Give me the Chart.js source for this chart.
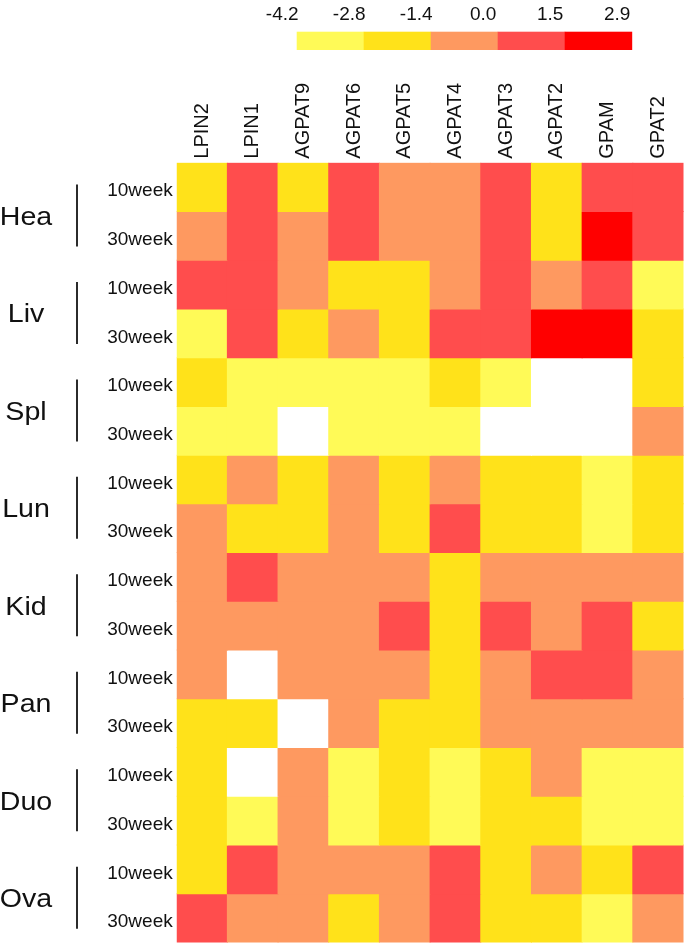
<!DOCTYPE html>
<html>
<head>
<meta charset="utf-8">
<script src="https://cdn.jsdelivr.net/npm/chart.js@4.4.1/dist/chart.umd.min.js"></script>
<style>
  html, body { margin: 0; padding: 0; background: #ffffff; }
  canvas { display: block; }
</style>
</head>
<body>
<canvas id="c" width="685" height="944"></canvas>
<script>
// ---------------- data ----------------
const genes = ['LPIN2', 'LPIN1', 'AGPAT9', 'AGPAT6', 'AGPAT5', 'AGPAT4', 'AGPAT3', 'AGPAT2', 'GPAM', 'GPAT2'];
const tissues = ['Hea', 'Liv', 'Spl', 'Lun', 'Kid', 'Pan', 'Duo', 'Ova'];
const weeks = ['10week', '30week'];

// legend breaks and bin colours
const legendBreaks = [-4.2, -2.8, -1.4, 0.0, 1.5, 2.9];
const legendLabels = ['-4.2', '-2.8', '-1.4', '0.0', '1.5', '2.9'];
const binColors = ['#FFFA57', '#FFE21A', '#FE9960', '#FF4D4D', '#FF0000'];
const naColor = '#FFFFFF';

// values per tissue/week row, in gene order (null = no value, drawn white)
const hea10 = [-2.1,  0.7, -2.1,  0.7, -0.7, -0.7,  0.7, -2.1,  0.7,  0.7];
const hea30 = [-0.7,  0.7, -0.7,  0.7, -0.7, -0.7,  0.7, -2.1,  2.2,  0.7];
const liv10 = [ 0.7,  0.7, -0.7, -2.1, -2.1, -0.7,  0.7, -0.7,  0.7, -3.5];
const liv30 = [-3.5,  0.7, -2.1, -0.7, -2.1,  0.7,  0.7,  2.2,  2.2, -2.1];
const spl10 = [-2.1, -3.5, -3.5, -3.5, -3.5, -2.1, -3.5, null, null, -2.1];
const spl30 = [-3.5, -3.5, null, -3.5, -3.5, -3.5, null, null, null, -0.7];
const lun10 = [-2.1, -0.7, -2.1, -0.7, -2.1, -0.7, -2.1, -2.1, -3.5, -2.1];
const lun30 = [-0.7, -2.1, -2.1, -0.7, -2.1,  0.7, -2.1, -2.1, -3.5, -2.1];
const kid10 = [-0.7,  0.7, -0.7, -0.7, -0.7, -2.1, -0.7, -0.7, -0.7, -0.7];
const kid30 = [-0.7, -0.7, -0.7, -0.7,  0.7, -2.1,  0.7, -0.7,  0.7, -2.1];
const pan10 = [-0.7, null, -0.7, -0.7, -0.7, -2.1, -0.7,  0.7,  0.7, -0.7];
const pan30 = [-2.1, -2.1, null, -0.7, -2.1, -2.1, -0.7, -0.7, -0.7, -0.7];
const duo10 = [-2.1, null, -0.7, -3.5, -2.1, -3.5, -2.1, -0.7, -3.5, -3.5];
const duo30 = [-2.1, -3.5, -0.7, -3.5, -2.1, -3.5, -2.1, -2.1, -3.5, -3.5];
const ova10 = [-2.1,  0.7, -0.7, -0.7, -0.7,  0.7, -2.1, -0.7, -2.1,  0.7];
const ova30 = [ 0.7, -0.7, -0.7, -2.1, -0.7,  0.7, -2.1, -2.1, -3.5, -0.7];

const rowValues = [hea10, hea30, liv10, liv30, spl10, spl30, lun10, lun30,
                   kid10, kid30, pan10, pan30, duo10, duo30, ova10, ova30];

// ---------------- helpers ----------------
const rowLabels = [];
tissues.forEach(t => weeks.forEach(w => rowLabels.push(w)));

function colorFor(v) {
  if (v === null || v === undefined) return naColor;
  for (let i = 0; i < binColors.length; i++) {
    if (v <= legendBreaks[i + 1]) return binColors[i];
  }
  return binColors[binColors.length - 1];
}

const FONT = "'Liberation Sans', Arial, Helvetica, sans-serif";

const datasets = rowValues.map((vals, r) => ({
  label: tissues[Math.floor(r / 2)] + ' ' + rowLabels[r],
  data: genes.map(() => [r, r + 1]),
  backgroundColor: vals.map(colorFor),
  borderWidth: 0,
  barPercentage: 1,
  categoryPercentage: 1,
  grouped: false,
  inflateAmount: 0.5
}));

// ---------------- plugins ----------------
const whiteBg = {
  id: 'whiteBg',
  beforeDraw(chart) {
    const ctx = chart.ctx;
    ctx.save();
    ctx.fillStyle = '#ffffff';
    ctx.fillRect(0, 0, chart.width, chart.height);
    ctx.restore();
  }
};

const tissueLabels = {
  id: 'tissueLabels',
  afterDraw(chart) {
    const ctx = chart.ctx;
    const y = chart.scales.y;
    ctx.save();
    tissues.forEach((t, i) => {
      const top = y.getPixelForValue(2 * i);
      const bot = y.getPixelForValue(2 * i + 2);
      const cy = (top + bot) / 2 + 4;
      // bracket line
      ctx.strokeStyle = '#2b2b2b';
      ctx.lineWidth = 2;
      ctx.beginPath();
      ctx.moveTo(77, cy - 31);
      ctx.lineTo(77, cy + 31);
      ctx.stroke();
      // label
      ctx.save();
      ctx.translate(26, cy + 9.3);
      ctx.scale(1.1, 1);
      ctx.fillStyle = '#111111';
      ctx.font = '26px ' + FONT;
      ctx.textAlign = 'center';
      ctx.textBaseline = 'alphabetic';
      ctx.fillText(t, 0, 0);
      ctx.restore();
    });
    ctx.restore();
  }
};

const colorLegend = {
  id: 'colorLegend',
  afterDraw(chart) {
    const ctx = chart.ctx;
    const x0 = 296.7, x1 = 631.7, yTop = 31.7, h = 18.3;
    const n = binColors.length;
    const w = (x1 - x0) / n;
    ctx.save();
    binColors.forEach((c, i) => {
      ctx.fillStyle = c;
      ctx.fillRect(x0 + i * w, yTop, w + 0.5, h);
    });
    ctx.fillStyle = '#111111';
    ctx.font = '19px ' + FONT;
    ctx.textAlign = 'center';
    ctx.textBaseline = 'alphabetic';
    legendLabels.forEach((lab, i) => {
      ctx.fillText(lab, x0 + i * w - 14.5, 19.5);
    });
    ctx.restore();
  }
};

// ---------------- chart ----------------
new Chart(document.getElementById('c'), {
  type: 'bar',
  data: { labels: genes, datasets },
  options: {
    responsive: false,
    animation: false,
    devicePixelRatio: 1,
    layout: { padding: { top: 0, left: 0, right: 1.5, bottom: 1.5 } },
    plugins: {
      legend: { display: false },
      tooltip: { enabled: false },
      title: { display: false }
    },
    scales: {
      x: {
        position: 'top',
        grid: { display: false, drawTicks: false },
        border: { display: false },
        ticks: {
          color: '#111111',
          font: { family: FONT, size: 20 },
          minRotation: 90,
          maxRotation: 90,
          padding: 4,
          labelOffset: 24,
          autoSkip: false
        },
        afterFit(scale) {
          scale.height = 162.7;
          scale.paddingLeft = 0;
          scale.paddingRight = 0;
        }
      },
      y: {
        type: 'linear',
        min: 0,
        max: 16,
        reverse: true,
        grid: { display: false, drawTicks: false },
        border: { display: false },
        ticks: {
          color: '#111111',
          font: { family: FONT, size: 19 },
          padding: 4,
          labelOffset: 4,
          autoSkip: false,
          callback: (v, i) => rowLabels[i]
        },
        afterBuildTicks(scale) {
          scale.ticks = rowLabels.map((_, i) => ({ value: i + 0.5 }));
        },
        afterFit(scale) {
          scale.width = 176.7;
          scale.paddingTop = 0;
          scale.paddingBottom = 0;
        }
      }
    }
  },
  plugins: [whiteBg, tissueLabels, colorLegend]
});
</script>
</body>
</html>
